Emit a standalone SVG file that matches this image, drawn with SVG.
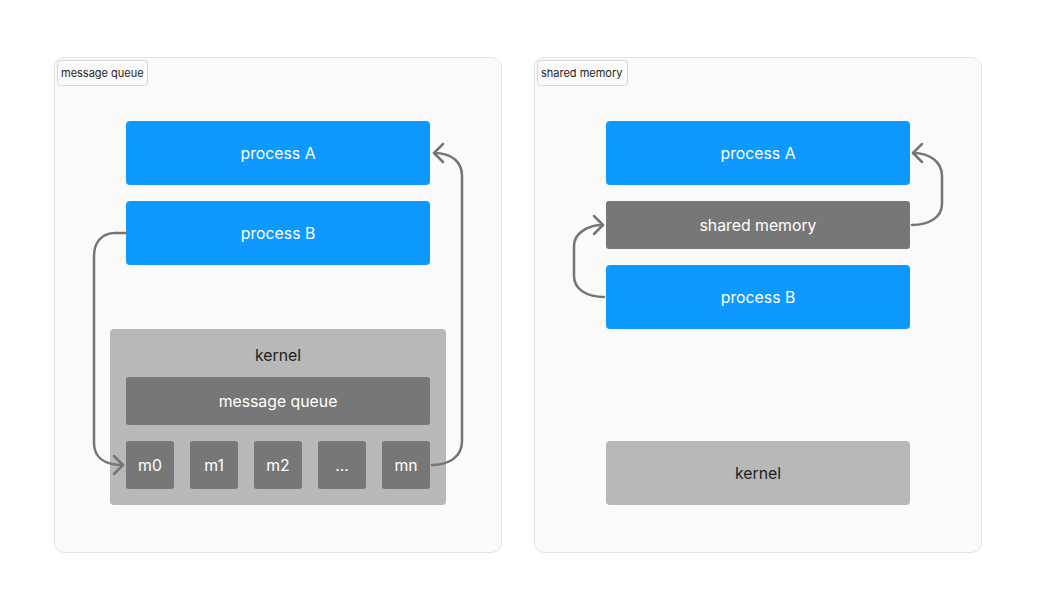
<svg xmlns="http://www.w3.org/2000/svg" width="1037" height="609" viewBox="0 0 1037 609">
<defs>
<marker id="arr" markerUnits="userSpaceOnUse" markerWidth="24" markerHeight="24" viewBox="-12 -12 24 24" refX="0" refY="0" orient="auto">
<path d="M-9 -9 L0 0 L-9 9" fill="none" stroke="#757575" stroke-width="2.5" stroke-linecap="round" stroke-linejoin="round"/>
</marker>
</defs>
<style>
.panel{fill:#fafafa;stroke:#e3e3e3;stroke-width:1}
.tag{fill:#fafafa;stroke:#d4d4d4;stroke-width:1}
.tagt{font-family:Inter,"Liberation Sans",sans-serif;font-size:11px;fill:#1e1e1e}
.blue{fill:#0d99ff}
.dark{fill:#777777}
.light{fill:#b8b8b8}
.wt{font-family:Inter,"Liberation Sans",sans-serif;font-size:15.8px;fill:#ffffff;text-anchor:middle;dominant-baseline:central}
.kt{font-family:Inter,"Liberation Sans",sans-serif;font-size:15.8px;fill:#1e1e1e;text-anchor:middle;dominant-baseline:central}
.conn{fill:none;stroke:#757575;stroke-width:2.5;stroke-linecap:round;marker-end:url(#arr)}
</style>
<rect width="1037" height="609" fill="#ffffff"/>
<g id="panel-mq">
<rect class="panel" x="54.5" y="57.5" width="447" height="495" rx="10"/>
<rect class="tag" x="57.5" y="60.5" width="90" height="25" rx="3"/>
<text class="tagt" x="61" y="76.5">message queue</text>
</g>
<g id="panel-shm">
<rect class="panel" x="534.5" y="57.5" width="447" height="495" rx="10"/>
<rect class="tag" x="537.5" y="60.5" width="90" height="25" rx="3"/>
<text class="tagt" x="541" y="76.5">shared memory</text>
</g>
<g id="mq-processA"><rect class="blue" x="126" y="121" width="304" height="64" rx="4"/><text class="wt" x="278" y="153">process A</text></g>
<g id="mq-processB"><rect class="blue" x="126" y="201" width="304" height="64" rx="4"/><text class="wt" x="278" y="233">process B</text></g>
<g id="mq-kernel"><rect class="light" x="110" y="329" width="336" height="176" rx="4"/><text class="kt" x="278" y="355">kernel</text></g>
<g id="mq-queue"><rect class="dark" x="126" y="377" width="304" height="48" rx="3"/><text class="wt" x="278" y="401">message queue</text></g>
<g id="mq-m0"><rect class="dark" x="126" y="441" width="48" height="48" rx="3"/><text class="wt" x="150" y="465">m0</text></g>
<g id="mq-m1"><rect class="dark" x="190" y="441" width="48" height="48" rx="3"/><text class="wt" x="214" y="465">m1</text></g>
<g id="mq-m2"><rect class="dark" x="254" y="441" width="48" height="48" rx="3"/><text class="wt" x="278" y="465">m2</text></g>
<g id="mq-dots"><rect class="dark" x="318" y="441" width="48" height="48" rx="3"/><text class="wt" x="342" y="465">...</text></g>
<g id="mq-mn"><rect class="dark" x="382" y="441" width="48" height="48" rx="3"/><text class="wt" x="406" y="465">mn</text></g>
<g id="shm-processA"><rect class="blue" x="606" y="121" width="304" height="64" rx="4"/><text class="wt" x="758" y="153">process A</text></g>
<g id="shm-memory"><rect class="dark" x="606" y="201" width="304" height="48" rx="3"/><text class="wt" x="758" y="225">shared memory</text></g>
<g id="shm-processB"><rect class="blue" x="606" y="265" width="304" height="64" rx="4"/><text class="wt" x="758" y="297">process B</text></g>
<g id="shm-kernel"><rect class="light" x="606" y="441" width="304" height="64" rx="4"/><text class="kt" x="758" y="473">kernel</text></g>
<g id="connectors">
<path class="conn" d="M126 233 L115 233 C102 233 94 242 94 256 L94 443 C94 457 104 465 123 465"/>
<path class="conn" d="M432 465 C450 465 462 456 462 441 L462 176 C462 162 452 153 434 153"/>
<path class="conn" d="M604 297 C588 297 574 290 574 276 L574 246 C574 233 588 225 603 225"/>
<path class="conn" d="M912 225 C928 225 942 218 942 204 L942 176 C942 162 930 153 913 153"/>
</g>
</svg>
